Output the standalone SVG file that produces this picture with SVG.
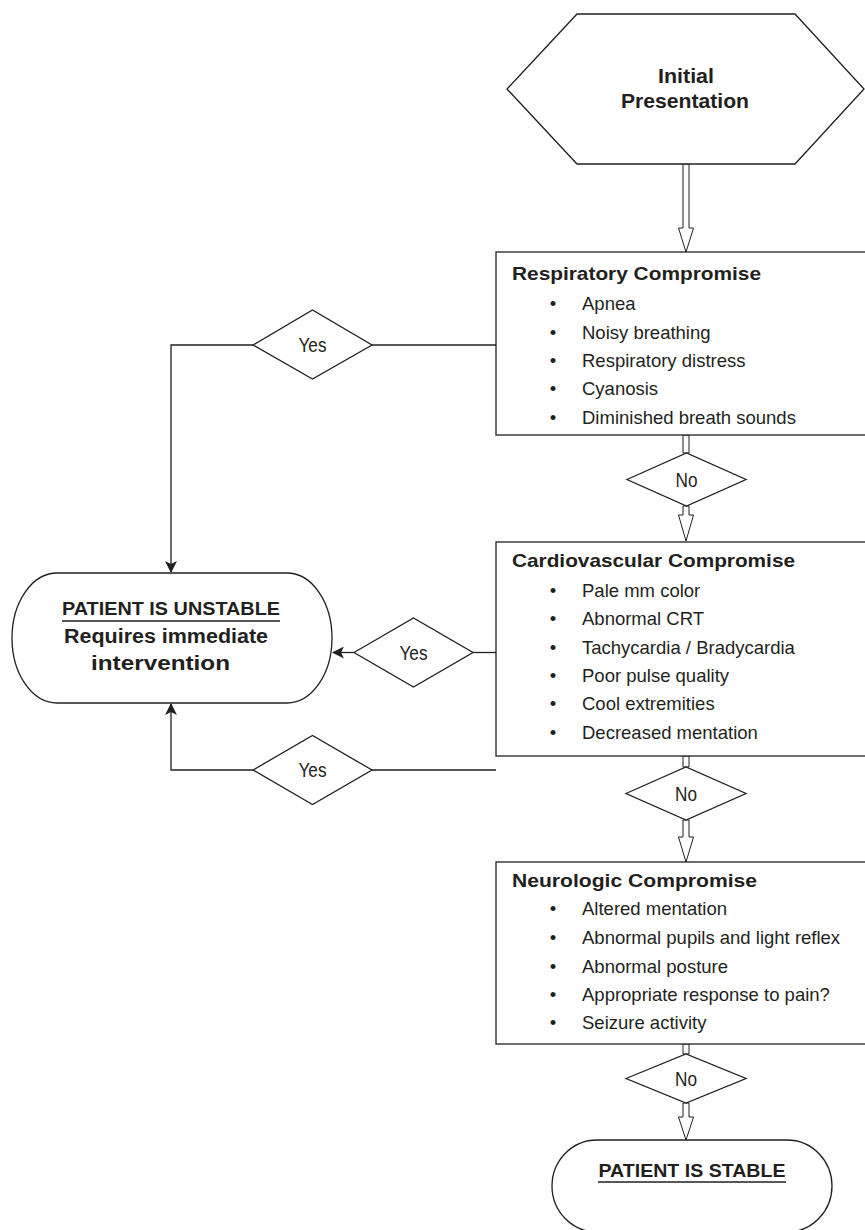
<svg xmlns="http://www.w3.org/2000/svg" width="865" height="1230" viewBox="0 0 865 1230">
<defs>
<style>
.s{fill:#fff;stroke:#231f20;stroke-width:1.3}
.ln{fill:none;stroke:#231f20;stroke-width:1.3}
.ha{fill:#fff;stroke:#231f20;stroke-width:1}
text{fill:#231f20;font-family:"Liberation Sans",Arial,sans-serif}
.b{font-weight:bold}
.h{font-weight:bold;font-size:19px}
.i{font-size:18.5px}
.lbl{font-size:20px;text-anchor:middle}
.c{text-anchor:middle}
</style>
<marker id="ah" viewBox="0 0 12 12" refX="11" refY="6" markerWidth="12" markerHeight="12" markerUnits="userSpaceOnUse" orient="auto">
<path d="M0,0 L12,6 L0,12 L3,6 Z" fill="#231f20"/>
</marker>
</defs>
<rect width="865" height="1230" fill="#fff"/>

<g id="connectors">
<polygon class="ha" points="683,164 689,164 689,228 693.5,228 686,252 678.5,228 683,228"/>
<polygon class="ha" points="683,435 689,435 689,453 683,453"/>
<polygon class="ha" points="683,506 689,506 689,515 693.5,515 686,541 678.5,515 683,515"/>
<polygon class="ha" points="683,756 689,756 689,767 683,767"/>
<polygon class="ha" points="683,820 689,820 689,837 693.5,837 686,862 678.5,837 683,837"/>
<polygon class="ha" points="683,1044 689,1044 689,1054 683,1054"/>
<polygon class="ha" points="683,1103 689,1103 689,1117 693.5,1117 686,1140 678.5,1117 683,1117"/>
<path class="ln" d="M496,345 H372"/>
<path class="ln" d="M253,345 H171 V572" marker-end="url(#ah)"/>
<path class="ln" d="M496,652.5 H473"/>
<path class="ln" d="M354,652.5 H333" marker-end="url(#ah)"/>
<path class="ln" d="M496,770 H372"/>
<path class="ln" d="M253,770 H171 V704" marker-end="url(#ah)"/>
</g>

<g id="initial">
<polygon class="s" points="577,14 795,14 864,89 795,164 577,164 507,89"/>
<text class="b c" x="686" y="83" font-size="21" textLength="56" lengthAdjust="spacingAndGlyphs">Initial</text>
<text class="b c" x="685" y="108" font-size="21" textLength="128" lengthAdjust="spacingAndGlyphs">Presentation</text>
</g>

<g id="respiratory">
<rect class="s" x="496" y="252" width="380" height="183"/>
<text class="h" x="512" y="280" textLength="249" lengthAdjust="spacingAndGlyphs">Respiratory Compromise</text>
<g class="i">
<text x="553" y="310" class="c">•</text><text x="582" y="310">Apnea</text>
<text x="553" y="338.5" class="c">•</text><text x="582" y="338.5">Noisy breathing</text>
<text x="553" y="367" class="c">•</text><text x="582" y="367">Respiratory distress</text>
<text x="553" y="395" class="c">•</text><text x="582" y="395">Cyanosis</text>
<text x="553" y="423.5" class="c">•</text><text x="582" y="423.5">Diminished breath sounds</text>
</g>
</g>

<g id="yes1">
<polygon class="s" points="253,345 312.5,310 372,345 312.5,379"/>
<text class="lbl" x="312.5" y="352" textLength="28" lengthAdjust="spacingAndGlyphs">Yes</text>
</g>

<g id="no1">
<polygon class="s" points="627,479.5 686.5,453 746,479.5 686.5,506"/>
<text class="lbl" x="686.5" y="487" textLength="22" lengthAdjust="spacingAndGlyphs">No</text>
</g>

<g id="cardio">
<rect class="s" x="496" y="542" width="380" height="214"/>
<text class="h" x="512" y="567" textLength="283" lengthAdjust="spacingAndGlyphs">Cardiovascular Compromise</text>
<g class="i">
<text x="553" y="597" class="c">•</text><text x="582" y="597">Pale mm color</text>
<text x="553" y="625" class="c">•</text><text x="582" y="625">Abnormal CRT</text>
<text x="553" y="653.5" class="c">•</text><text x="582" y="653.5">Tachycardia / Bradycardia</text>
<text x="553" y="682" class="c">•</text><text x="582" y="682">Poor pulse quality</text>
<text x="553" y="710" class="c">•</text><text x="582" y="710">Cool extremities</text>
<text x="553" y="738.5" class="c">•</text><text x="582" y="738.5">Decreased mentation</text>
</g>
</g>

<g id="yes2">
<polygon class="s" points="354,652.5 413.5,618 473,652.5 413.5,687"/>
<text class="lbl" x="413.5" y="660" textLength="28" lengthAdjust="spacingAndGlyphs">Yes</text>
</g>

<g id="unstable">
<rect class="s" x="12" y="573" width="320" height="130" rx="45" ry="65"/>
<text class="b c" x="171" y="615" font-size="18.5" textLength="218" lengthAdjust="spacingAndGlyphs">PATIENT IS UNSTABLE</text>
<line class="ln" x1="62" y1="621" x2="280" y2="621"/>
<text class="b" x="64" y="643" font-size="20" textLength="204" lengthAdjust="spacingAndGlyphs">Requires immediate</text>
<text class="b" x="91" y="670" font-size="20" textLength="139" lengthAdjust="spacingAndGlyphs">intervention</text>
</g>

<g id="no2">
<polygon class="s" points="626,793.5 686,767 746,793.5 686,820"/>
<text class="lbl" x="686" y="801" textLength="22" lengthAdjust="spacingAndGlyphs">No</text>
</g>

<g id="neuro">
<rect class="s" x="496" y="862" width="380" height="182"/>
<text class="h" x="512" y="887" textLength="245" lengthAdjust="spacingAndGlyphs">Neurologic Compromise</text>
<g class="i">
<text x="553" y="915" class="c">•</text><text x="582" y="915">Altered mentation</text>
<text x="553" y="943.5" class="c">•</text><text x="582" y="943.5">Abnormal pupils and light reflex</text>
<text x="553" y="972.5" class="c">•</text><text x="582" y="972.5">Abnormal posture</text>
<text x="553" y="1001" class="c">•</text><text x="582" y="1001">Appropriate response to pain?</text>
<text x="553" y="1029" class="c">•</text><text x="582" y="1029">Seizure activity</text>
</g>
</g>

<g id="yes3">
<polygon class="s" points="253,770 312.5,735.5 372,770 312.5,804.5"/>
<text class="lbl" x="312.5" y="777" textLength="28" lengthAdjust="spacingAndGlyphs">Yes</text>
</g>

<g id="no3">
<polygon class="s" points="626,1078.5 686,1054 746,1078.5 686,1103"/>
<text class="lbl" x="686" y="1086" textLength="22" lengthAdjust="spacingAndGlyphs">No</text>
</g>

<g id="stable">
<rect class="s" x="552" y="1140" width="280" height="92" rx="45" ry="46"/>
<text class="b c" x="692" y="1177" font-size="18.5" textLength="187" lengthAdjust="spacingAndGlyphs">PATIENT IS STABLE</text>
<line class="ln" x1="598" y1="1182" x2="786" y2="1182"/>
</g>
</svg>
